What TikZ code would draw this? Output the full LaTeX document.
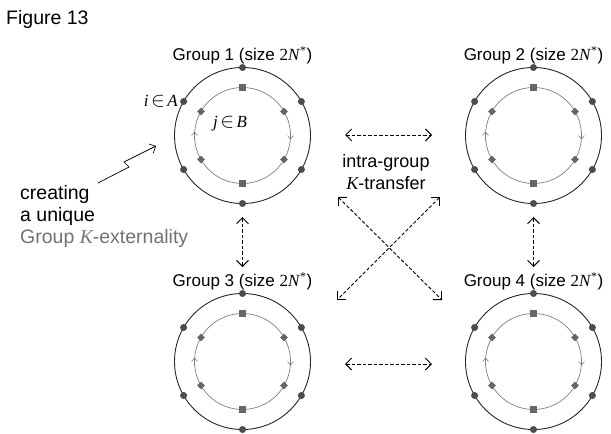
\documentclass[tikz,border=0pt]{standalone}
\usepackage{fontspec}
\setmainfont{Liberation Sans}
\newfontfamily\tms{Liberation Serif}
\usetikzlibrary{arrows.meta,shapes.geometric}
\tikzset{
  outerc/.style={draw=black!85, line width=0.9pt, circle, minimum size=136pt, inner sep=0pt, outer sep=0pt},
  innerc/.style={draw=black!50, line width=0.7pt, circle, minimum size=96pt, inner sep=0pt, outer sep=0pt},
  odot/.style={circle, fill=black!70, minimum size=7pt, inner sep=0pt},
  isq/.style={rectangle, fill=black!60, minimum size=7pt, inner sep=0pt},
  idia/.style={rectangle, rotate=45, fill=black!60, minimum size=5.5pt, inner sep=0pt},
  iarrow/.style={draw=black!50, line width=0.6pt, -{Straight Barb[length=3.5pt,width=6pt]}},
  dasharrow/.style={line width=0.9pt, dash pattern=on 3.5pt off 2pt,
     {Straight Barb[length=6pt,width=12pt]}-{Straight Barb[length=6pt,width=12pt]}},
  glab/.style={font=\fontsize{17}{20}\selectfont, inner sep=0pt, anchor=base},
  btxt/.style={font=\fontsize{19.5}{22}\selectfont, inner sep=0pt, anchor=base west},
  mtxt/.style={font=\fontsize{18}{21}\selectfont, inner sep=0pt, anchor=base},
  itxt/.style={font=\fontsize{17}{20}\selectfont\tms\itshape, inner sep=0pt}
}
\newcommand\elem{\hspace{2.5pt}{\normalfont\scalebox{1.2}{$\in$}}\hspace{2.5pt}}
\newcommand\mkgroup[4]{%
  \node[outerc] (#1o) at (#2,#3) {};
  \node[innerc] (#1i) at (#2,#3) {};
  \foreach \a in {30,90,150,210,270,330} {\node[odot] (#1d\a) at (#1o.\a) {};}
  \node[isq] (#1s90) at (#1i.90) {};
  \node[isq] (#1s270) at (#1i.270) {};
  \foreach \a in {30,150,210,330} {\node[idia] (#1m\a) at (#1i.\a) {};}
  \path (#1i.west) ++(0,4) coordinate (#1la) ++(0,-8) coordinate (#1lb);
  \path (#1i.east) ++(0,-4) coordinate (#1ra) ++(0,8) coordinate (#1rb);
  \draw[iarrow] (#1la) -- (#1lb);
  \draw[iarrow] (#1ra) -- (#1rb);
  \node[glab] (#1lab) at (#2,#3-75) {Group #4 (size {\tms 2\textit{N}\textsuperscript{*}})};
}
\begin{document}
\begin{tikzpicture}[x=1pt,y=-1pt]
\useasboundingbox[fill=white] (0,0) rectangle (611,434);

\node[font=\fontsize{19.5}{22}\selectfont, inner sep=0pt, anchor=base west] (fig) at (6,24) {Figure 13};

\mkgroup{ga}{242.5}{135.5}{1}
\mkgroup{gb}{533.5}{135.5}{2}
\mkgroup{gc}{242.5}{361.5}{3}
\mkgroup{gd}{533.5}{361.5}{4}

% labels in group 1
\node[itxt, anchor=base east] (ia) at (178,106) {i\elem A};
\node[itxt, anchor=base] (jb) at (230,127) {j\elem B};

% left explanatory text
\node[btxt] (t1) at (20,199) {creating};
\node[btxt] (t2) at (20,221) {a unique};
\node[btxt, text=black!55] (t3) at (20,243) {Group {\tms\itshape K}-externality};

% lightning arrow
\coordinate (b1) at (98,183);
\coordinate (b2) at (129,167);
\coordinate (b3) at (124,162);
\coordinate (b4) at (156,146);
\draw[line width=0.7pt, -{Straight Barb[length=5pt,width=10pt]}] (b1) -- (b2) -- (b3) -- (b4);

% middle text
\node[mtxt] (m1) at (386,167) {intra-group};
\node[mtxt] (m2) at (386,189) {{\tms\itshape K}-transfer};

% dashed arrows
\coordinate (h1a) at (345,135);
\coordinate (h1b) at (432,135);
\coordinate (h2a) at (345,364);
\coordinate (h2b) at (432,364);
\coordinate (v1a) at (242.5,217);
\coordinate (v1b) at (242.5,267);
\coordinate (v2a) at (533.5,217);
\coordinate (v2b) at (533.5,267);
\coordinate (d1a) at (338,197);
\coordinate (d1b) at (442,300);
\coordinate (d2a) at (440,197);
\coordinate (d2b) at (337,300);
\draw[dasharrow] (h1a) -- (h1b);
\draw[dasharrow] (h2a) -- (h2b);
\draw[dasharrow] (v1a) -- (v1b);
\draw[dasharrow] (v2a) -- (v2b);
\draw[dasharrow] (d1a) -- (d1b);
\draw[dasharrow] (d2a) -- (d2b);
\end{tikzpicture}
\end{document}
